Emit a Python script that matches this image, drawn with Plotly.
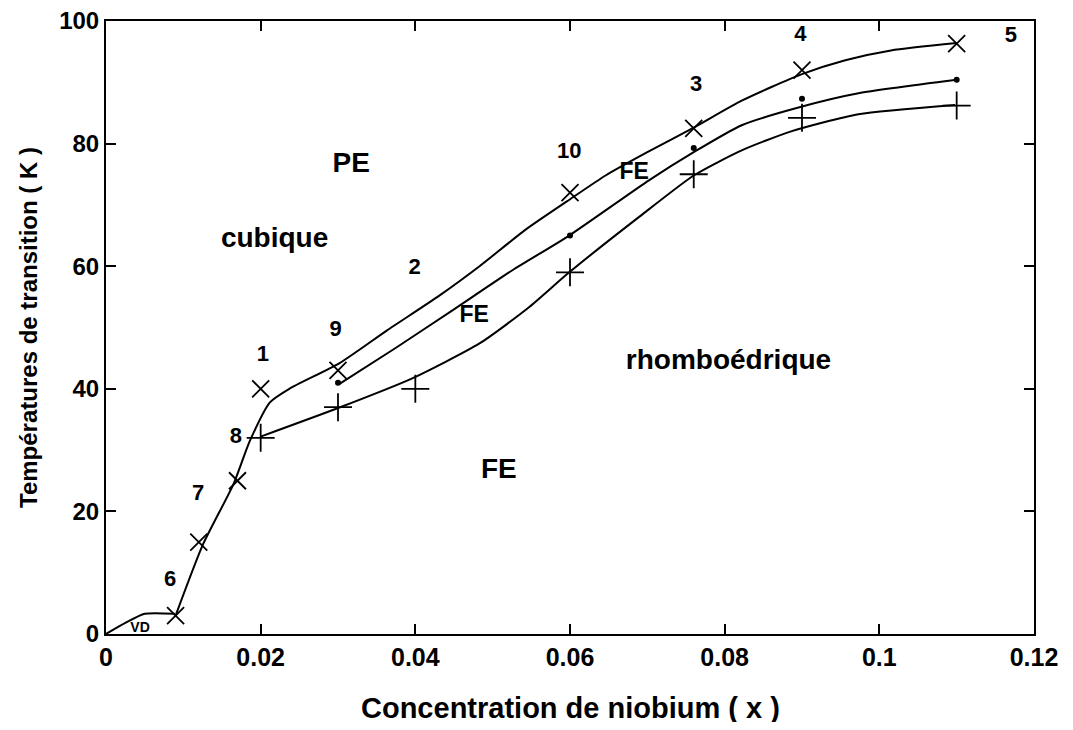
import plotly.graph_objects as go

# Marker data
x_cross = [0.009, 0.012, 0.017, 0.020, 0.030, 0.060, 0.076, 0.090, 0.110]
y_cross = [3, 15, 25, 40, 43, 72, 82.5, 92, 96.3]
x_dot = [0.030, 0.060, 0.076, 0.090, 0.110]
y_dot = [41, 65, 79.3, 87.3, 90.4]
x_plus = [0.020, 0.030, 0.040, 0.060, 0.076, 0.090, 0.110]
y_plus = [32, 37, 40, 59, 75, 84.2, 86.2]

# Hand-drawn curves
upper_x = [0.009, 0.0125, 0.0165, 0.0186, 0.0212, 0.0237, 0.0302, 0.0363, 0.0431, 0.0483, 0.0543,
           0.0601, 0.0646, 0.0700, 0.0760, 0.0822, 0.0899, 0.0956, 0.1015, 0.1100]
upper_y = [3, 14.5, 24.5, 31.5, 37.8, 40.0, 44.2, 49.5, 55.2, 60.0, 66.0,
           71.0, 74.8, 78.6, 82.6, 87.0, 91.3, 93.6, 95.2, 96.4]
mid_x = [0.0302, 0.0375, 0.0448, 0.0525, 0.0599, 0.0702, 0.0760, 0.0822, 0.0899, 0.0973, 0.1100]
mid_y = [40.8, 46.7, 52.8, 59.3, 65.0, 74.0, 78.6, 83.0, 86.0, 88.2, 90.4]
low_x = [0.0200, 0.0301, 0.0396, 0.0483, 0.0547, 0.0599, 0.0689, 0.0760, 0.0822, 0.0886, 0.0973, 0.1098]
low_y = [32.2, 36.9, 41.7, 47.4, 53.3, 59.0, 68.0, 74.8, 78.9, 82.0, 84.8, 86.3]
vd_x = [0.0, 0.0025, 0.005, 0.0089]
vd_y = [0.0, 1.8, 3.3, 3.3]

# Labels
num_labels = ["1", "8", "7", "6", "9", "2", "10", "3", "4", "5"]
num_x = [0.0203, 0.0168, 0.0119, 0.0083, 0.0297, 0.0399, 0.0599, 0.0763, 0.0898, 0.117]
num_y = [45.4, 32.0, 22.7, 8.7, 49.5, 59.6, 78.6, 89.4, 97.7, 97.5]
small_fe_x = [0.0476, 0.0683]
small_fe_y = [51.8, 75.2]
region_labels = ["PE", "cubique", "rhomboédrique", "FE"]
region_x = [0.0317, 0.0218, 0.0805, 0.0508]
region_y = [76.5, 64.2, 44.3, 26.6]

x_ticks = [0, 0.02, 0.04, 0.06, 0.08, 0.1, 0.12]
x_tick_text = ["0", "0.02", "0.04", "0.06", "0.08", "0.1", "0.12"]
y_ticks = [0, 20, 40, 60, 80, 100]
x_title = "Concentration de niobium ( x )"
y_title = "Températures de transition ( K )"

fig = go.Figure()
line_style = dict(color="black", width=2, shape="spline", smoothing=0.6)
for cx, cy in [(upper_x, upper_y), (mid_x, mid_y), (low_x, low_y), (vd_x, vd_y)]:
    fig.add_trace(go.Scatter(x=cx, y=cy, mode="lines", line=line_style, hoverinfo="skip"))

fig.add_trace(go.Scatter(x=x_cross, y=y_cross, mode="markers",
                         marker=dict(symbol="x-thin-open", size=17, color="black",
                                     line=dict(color="black", width=1.8))))
fig.add_trace(go.Scatter(x=x_plus, y=y_plus, mode="markers",
                         marker=dict(symbol="cross-thin-open", size=20, color="black",
                                     line=dict(color="black", width=1.8))))
fig.add_trace(go.Scatter(x=x_dot, y=y_dot, mode="markers",
                         marker=dict(symbol="circle", size=6, color="black")))

bold = "Liberation Sans"
fig.add_trace(go.Scatter(x=num_x, y=num_y, mode="text", text=num_labels,
                         textfont=dict(family=bold, size=22, color="black", weight="bold")))
fig.add_trace(go.Scatter(x=small_fe_x, y=small_fe_y, mode="text", text=["FE", "FE"],
                         textfont=dict(family=bold, size=23, color="black", weight="bold")))
fig.add_trace(go.Scatter(x=[0.0044], y=[0.9], mode="text", text=["VD"],
                         textfont=dict(family=bold, size=14, color="black", weight="bold")))
fig.add_trace(go.Scatter(x=region_x, y=region_y, mode="text", text=region_labels,
                         textfont=dict(family=bold, size=28, color="black", weight="bold")))

axis_common = dict(showline=True, linecolor="black", linewidth=2, mirror="allticks",
                   ticks="inside", ticklen=10, tickwidth=1.5, tickcolor="black",
                   showgrid=False, zeroline=False, automargin=False,
                   ticklabeloverflow="allow")
fig.update_xaxes(range=[0, 0.12], tickvals=x_ticks, ticktext=x_tick_text,
                 tickfont=dict(family="Liberation Sans Narrow, Liberation Sans", size=25, color="black", weight="bold"),
                 **axis_common)
fig.update_yaxes(range=[0, 100], tickvals=y_ticks,
                 tickfont=dict(family=bold, size=24, color="black", weight="bold"),
                 title=dict(text=y_title,
                            font=dict(family=bold, size=24, color="black", weight="bold"),
                            standoff=15),
                 **axis_common)
fig.add_annotation(text=x_title, xref="paper", yref="paper", x=0.5, y=-0.12,
                   xanchor="center", yanchor="middle", showarrow=False,
                   font=dict(family="Liberation Sans Narrow, Liberation Sans", size=29,
                             color="black", weight="bold"))
fig.update_layout(width=1057, height=714, showlegend=False,
                  plot_bgcolor="white", paper_bgcolor="white",
                  margin=dict(l=98, r=31, t=13, b=88))
fig.write_html("out.html")
